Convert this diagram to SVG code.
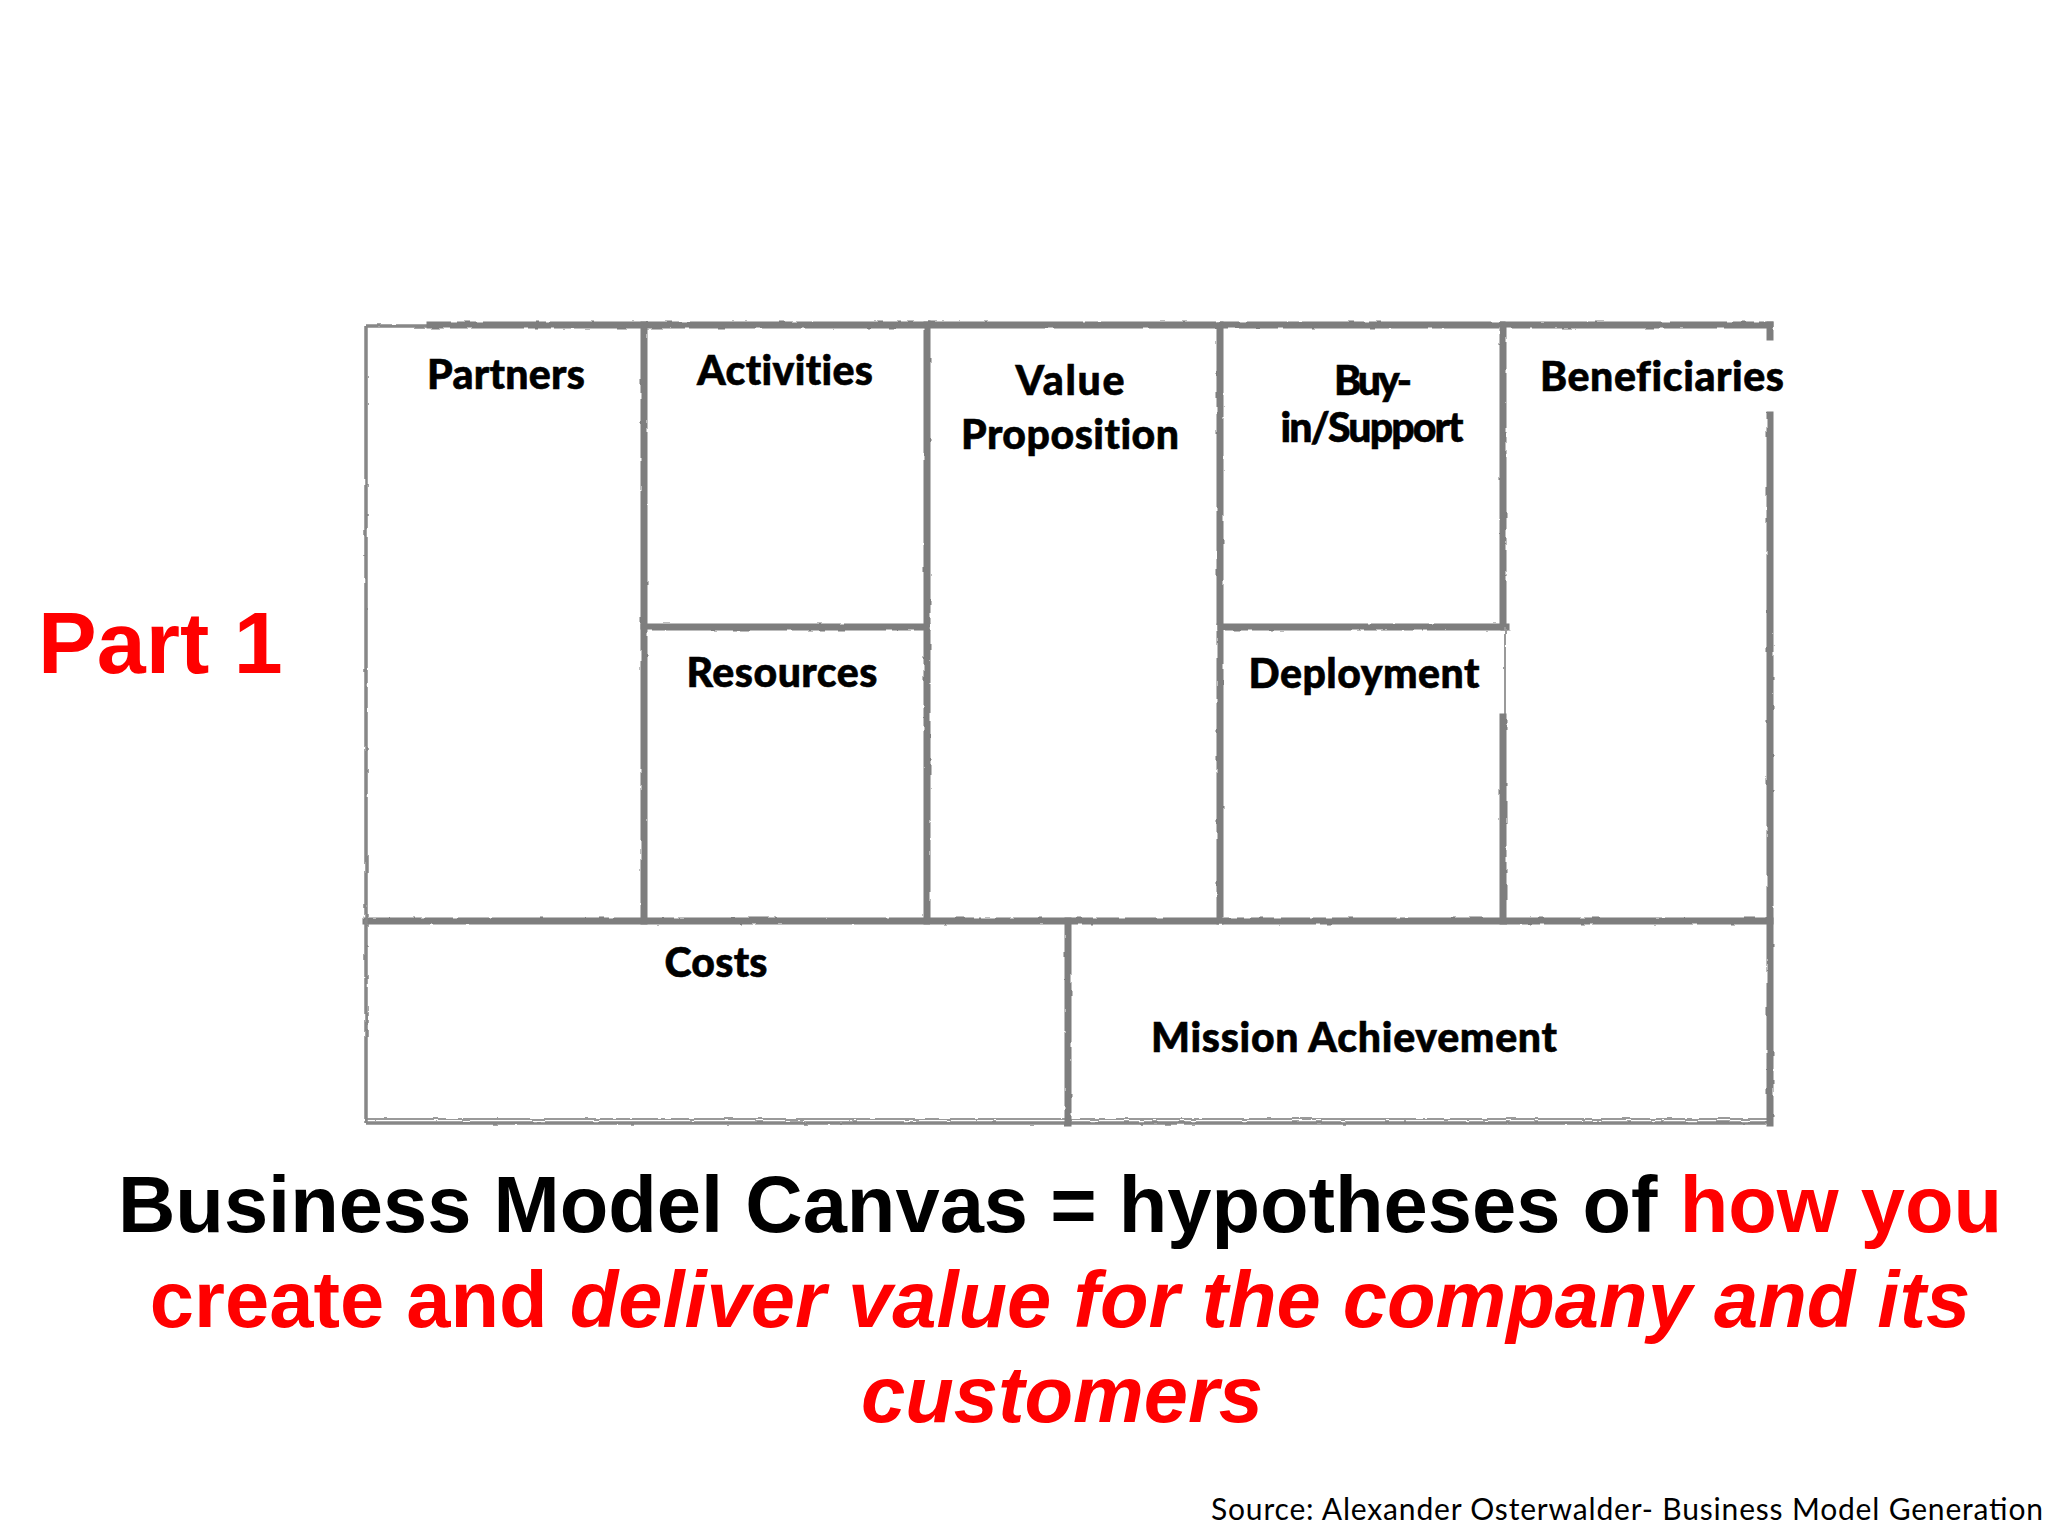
<svg xmlns="http://www.w3.org/2000/svg" width="2048" height="1536" viewBox="0 0 2048 1536">
  <defs>
    <filter id="rough" x="-5%" y="-5%" width="110%" height="110%">
      <feTurbulence type="fractalNoise" baseFrequency="0.08" numOctaves="2" seed="3" result="n"/>
      <feDisplacementMap in="SourceGraphic" in2="n" scale="2.5" xChannelSelector="R" yChannelSelector="G"/>
    </filter>
  </defs>
  <style>
    .ln { stroke: #7e7e7e; stroke-width: 7; fill: none; stroke-linecap: square; }
    .thin { stroke: #878787; stroke-width: 3.5; fill: none; }
    .hair { stroke: #9a9a9a; stroke-width: 2; fill: none; }
    .lbl { font-family: "Lato", "Open Sans", sans-serif; font-weight: 900; font-size: 41px; fill: #000000; stroke: #000000; stroke-width: 0.6; text-anchor: middle; font-variant-ligatures: none; }
    .big { font-family: "Liberation Sans", Arial, sans-serif; font-weight: bold; font-size: 79.5px; text-anchor: middle; }
    .red { fill: #FF0000; }
  </style>
  <rect x="0" y="0" width="2048" height="1536" fill="#FFFFFF"/>

  <g id="canvas-lines" filter="url(#rough)">
    <line class="thin" x1="366" y1="326" x2="430" y2="326"/>
    <line class="ln" x1="430" y1="325" x2="1770" y2="325"/>
    <line class="ln" x1="644" y1="627" x2="927" y2="627"/>
    <line class="ln" x1="1220" y1="627" x2="1506" y2="627"/>
    <line class="ln" x1="366" y1="921" x2="1770" y2="921"/>
    <line class="thin" x1="366" y1="1123" x2="1770" y2="1123"/>
    <line class="hair" x1="366" y1="1119" x2="1770" y2="1119"/>
    <line class="thin" x1="366" y1="326" x2="366" y2="1123"/>
    <line class="ln" x1="644" y1="325" x2="644" y2="921"/>
    <line class="ln" x1="927" y1="325" x2="927" y2="921"/>
    <line class="ln" x1="1220" y1="325" x2="1220" y2="921"/>
    <line class="ln" x1="1503" y1="325" x2="1503" y2="627"/>
    <line class="hair" x1="1505" y1="627" x2="1505" y2="717"/>
    <line class="ln" x1="1503" y1="717" x2="1503" y2="921"/>
    <line class="ln" x1="1770" y1="325" x2="1770" y2="337"/>
    <line class="ln" x1="1770" y1="415" x2="1770" y2="1123"/>
    <line class="ln" x1="1068" y1="921" x2="1068" y2="1123"/>
  </g>

  <g id="partners"><text class="lbl" x="506" y="389" textLength="158">Partners</text></g>
  <g id="activities"><text class="lbl" x="785" y="385" textLength="176">Activities</text></g>
  <g id="resources"><text class="lbl" x="782" y="687" textLength="191">Resources</text></g>
  <g id="value-proposition">
    <text class="lbl" x="1070" y="395" textLength="109">Value</text>
    <text class="lbl" x="1070" y="449" textLength="218">Proposition</text>
  </g>
  <g id="buy-in-support">
    <text class="lbl" x="1373" y="395" textLength="78">Buy-</text>
    <text class="lbl" x="1372" y="442" textLength="183">in/Support</text>
  </g>
  <g id="deployment"><text class="lbl" x="1364" y="688" textLength="231">Deployment</text></g>
  <g id="beneficiaries"><text class="lbl" x="1662" y="391" textLength="244">Beneficiaries</text></g>
  <g id="costs"><text class="lbl" x="716" y="977" textLength="103">Costs</text></g>
  <g id="mission-achievement"><text class="lbl" x="1354" y="1052" textLength="406">Mission Achievement</text></g>

  <g id="part-1">
    <text x="38" y="673" font-family="Liberation Sans, Arial, sans-serif" font-weight="bold" font-size="88" fill="#FF0000">Part 1</text>
  </g>

  <g id="caption">
    <text class="big" x="1060" y="1232" fill="#000000">Business Model Canvas = hypotheses of <tspan class="red">how you</tspan></text>
    <text class="big red" x="1060" y="1327">create and <tspan font-style="italic">deliver value for the company and its</tspan></text>
    <text class="big red" x="1062" y="1422" font-style="italic">customers</text>
  </g>

  <g id="source">
    <text x="1211" y="1520" font-family="Lato, 'Open Sans', sans-serif" font-size="30" fill="#000000" textLength="832">Source: Alexander Osterwalder- Business Model Generation</text>
  </g>
</svg>
